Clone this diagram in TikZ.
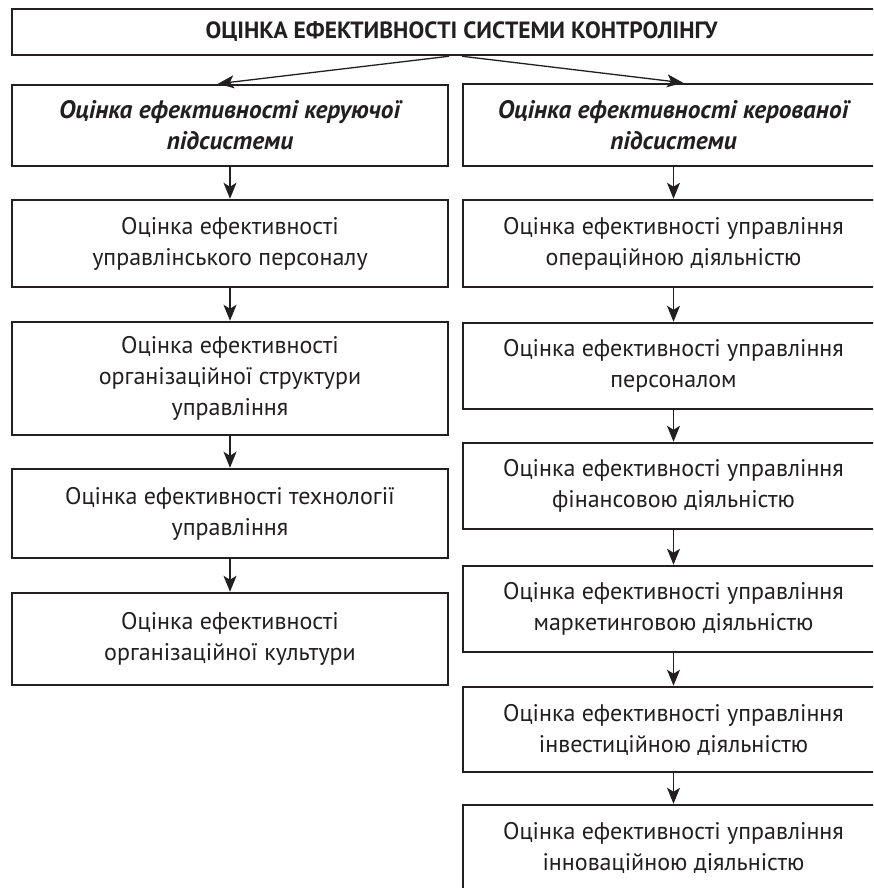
\documentclass[tikz,border=0pt]{standalone}
\usepackage{fontspec}
\setmainfont{PT Sans}
\usetikzlibrary{arrows.meta}
\definecolor{ink}{RGB}{35,31,32}
\tikzset{
  box/.style={draw=ink, line width=2.5pt, rectangle, inner sep=0pt, align=center,
    text=ink, font=\fontsize{24}{31}\selectfont},
  lbox/.style={box, minimum width=436pt},
  rbox/.style={box, minimum width=421pt},
  hdr/.style={font=\fontsize{25.3}{31}\selectfont\bfseries\itshape},
  arr/.style={draw=ink, line width=1.3pt, -{Stealth[length=16pt,width=13pt,inset=4pt]}}
}
\begin{document}
\begin{tikzpicture}[x=1pt,y=-1pt]
\useasboundingbox (0,0) rectangle (873,888);
\fill[white] (0,0) rectangle (873,888);
\clip (0,0) rectangle (873,888);
\node[box, minimum width=899pt, minimum height=46pt, font=\fontsize{23.5}{26}\selectfont\bfseries] (T) at (461.5,32) {ОЦІНКА ЕФЕКТИВНОСТІ СИСТЕМИ КОНТРОЛІНГУ};
% left column
\node[lbox, hdr, minimum height=81pt] (L0) at (230,125.5) {Оцінка ефективності керуючої\\підсистеми};
\node[lbox, minimum height=87pt] (L1) at (230,243.5) {Оцінка ефективності\\управлінського персоналу};
\node[lbox, minimum height=113pt] (L2) at (230,378.5) {Оцінка ефективності\\організаційної структури\\управління};
\node[lbox, minimum height=89pt] (L3) at (230,513.5) {Оцінка ефективності технології\\управління};
\node[lbox, minimum height=92pt] (L4) at (230,639) {Оцінка ефективності\\організаційної культури};
% right column
\node[rbox, hdr, minimum height=82pt] (R0) at (673.5,125) {Оцінка ефективності керованої\\підсистеми};
\node[rbox, minimum height=87pt] (R1) at (673.5,243.5) {Оцінка ефективності управління\\операційною діяльністю};
\node[rbox, minimum height=86pt] (R2) at (673.5,366) {Оцінка ефективності управління\\персоналом};
\node[rbox, minimum height=86pt] (R3) at (673.5,486) {Оцінка ефективності управління\\фінансовою діяльністю};
\node[rbox, minimum height=86pt] (R4) at (673.5,609) {Оцінка ефективності управління\\маркетинговою діяльністю};
\node[rbox, minimum height=85pt] (R5) at (673.5,729.5) {Оцінка ефективності управління\\інвестиційною діяльністю};
\node[rbox, minimum height=86pt] (R6) at (673.5,848) {Оцінка ефективності управління\\інноваційною діяльністю};
% connectors
\draw[arr] ([xshift=-12.5pt]T.south) -- ([xshift=-12pt]L0.north);
\draw[arr] ([xshift=0.5pt]T.south) -- ([xshift=9.5pt]R0.north);
\draw[arr] (L0.south) -- (L1.north);
\draw[arr] (L1.south) -- (L2.north);
\draw[arr] (L2.south) -- (L3.north);
\draw[arr] (L3.south) -- (L4.north);
\draw[arr] (R0.south) -- (R1.north);
\draw[arr] (R1.south) -- (R2.north);
\draw[arr] (R2.south) -- (R3.north);
\draw[arr] (R3.south) -- (R4.north);
\draw[arr] (R4.south) -- (R5.north);
\draw[arr] (R5.south) -- (R6.north);
\end{tikzpicture}
\end{document}
